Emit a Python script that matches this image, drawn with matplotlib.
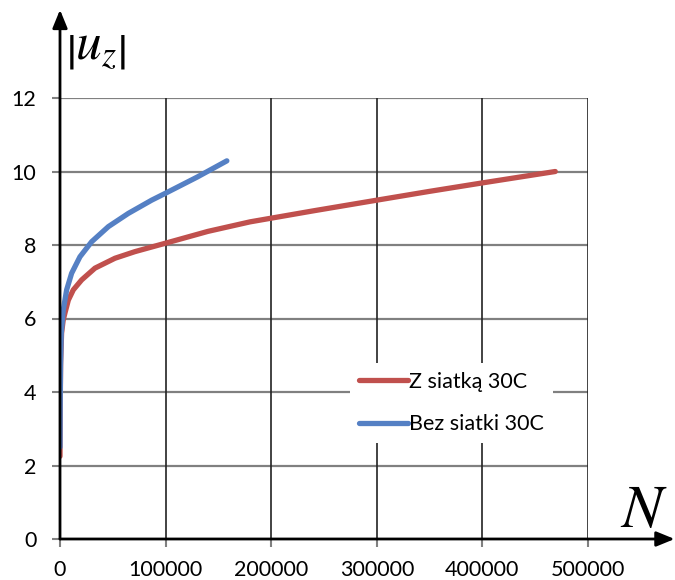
import numpy as np
import matplotlib
matplotlib.use('Agg')
import matplotlib.pyplot as plt

# values
n_grid = [0, 200, 600, 1500, 3000, 4700, 7900, 12600, 20500, 33100, 52100, 71000,
          100000, 140000, 180000, 240000, 300000, 350000, 400000, 469000]
u_grid = [2.25, 3.5, 4.8, 5.6, 5.95, 6.15, 6.5, 6.78, 7.05, 7.37, 7.64, 7.82,
          8.05, 8.37, 8.63, 8.93, 9.22, 9.46, 9.69, 10.0]

n_bez = [0, 150, 500, 1200, 3100, 6300, 11000, 18900, 30000, 45800, 64700, 86800,
         100000, 130000, 158000]
u_bez = [2.5, 3.5, 4.7, 5.6, 6.23, 6.78, 7.23, 7.68, 8.09, 8.5, 8.86, 9.22,
         9.41, 9.85, 10.29]

x_ticks = [0, 100000, 200000, 300000, 400000, 500000]
y_ticks = [0, 2, 4, 6, 8, 10, 12]
label_grid = 'Z siatką 30C'
label_bez = 'Bez siatki 30C'

plt.rcParams['font.family'] = ['Lato', 'DejaVu Sans']
plt.rcParams['mathtext.fontset'] = 'stix'

W, H = 675, 580
fig = plt.figure(figsize=(W / 100, H / 100), dpi=100)
# axes box in pixels: x 60..588, y 98..539
ax = fig.add_axes([60 / W, (H - 539) / H, (588 - 60) / W, (539 - 98) / H])
ax.set_xlim(0, 500000)
ax.set_ylim(0, 12)

ax.plot(n_grid, u_grid, color='#C0504D', lw=3.8, solid_capstyle='round',
        solid_joinstyle='round', label=label_grid, zorder=3)
ax.plot(n_bez, u_bez, color='#5580C4', lw=3.8, solid_capstyle='round',
        solid_joinstyle='round', label=label_bez, zorder=3)

ax.set_xticks(x_ticks)
ax.set_yticks(y_ticks)
ax.set_xticklabels([str(v) for v in x_ticks])
ax.tick_params(axis='both', labelsize=15.5, length=6, width=1.5, color='#808080')
ax.tick_params(axis='x', pad=9)
ax.tick_params(axis='y', pad=11)

for y in y_ticks[1:]:
    ax.axhline(y, color='#808080', lw=1.6, zorder=1)
for x in x_ticks[1:]:
    ax.axvline(x, color='#222222', lw=1.2, zorder=1)

for s in ax.spines.values():
    s.set_visible(False)

# axes with arrows
ax.annotate('', xy=(582000, 0), xytext=(0, 0), annotation_clip=False,
            arrowprops=dict(arrowstyle='-|>,head_length=1.1,head_width=0.45', color='black', lw=2, shrinkA=0, shrinkB=0), zorder=4)
ax.annotate('', xy=(0, 14.4), xytext=(0, 0), annotation_clip=False,
            arrowprops=dict(arrowstyle='-|>,head_length=1.1,head_width=0.45', color='black', lw=2, shrinkA=0, shrinkB=0), zorder=4)

fig.text(96 / W, 1 - 48 / H, r'$\left|u_z\right|$', fontsize=37, va='center', ha='center')
fig.text(644 / W, 1 - 510 / H, r'$N$', fontsize=44, va='center', ha='center')

leg = ax.legend(loc='upper left', bbox_to_anchor=(350 / W, 1 - 363 / H), bbox_transform=fig.transFigure,
                fontsize=15.5, frameon=True, fancybox=False, framealpha=1, edgecolor='none',
                facecolor='white', handlelength=2.3, handletextpad=0.05, labelspacing=1.05,
                borderpad=0.4, borderaxespad=0)
leg.set_zorder(5)

fig.savefig('out.png', dpi=100, facecolor='white')
